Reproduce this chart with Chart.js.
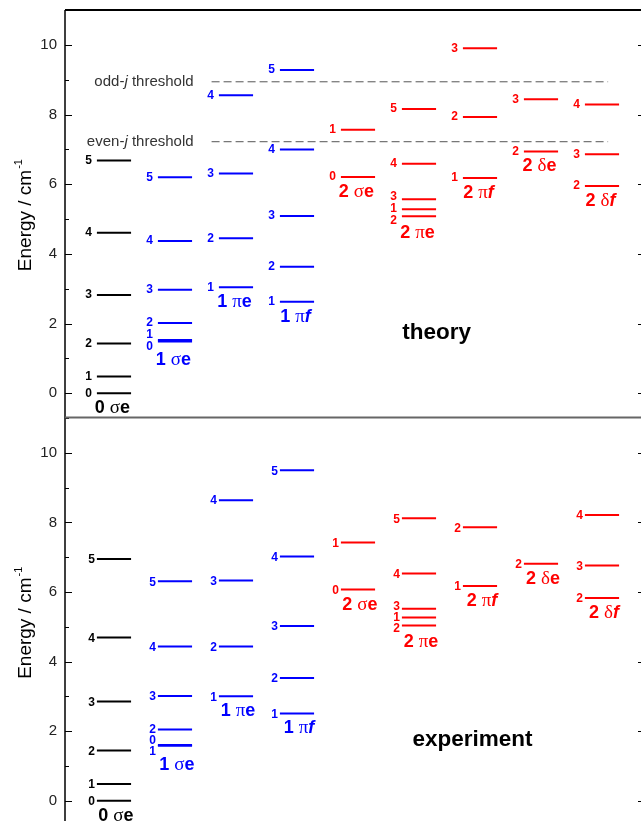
<!DOCTYPE html>
<html>
<head>
<meta charset="utf-8">
<script src="https://cdn.jsdelivr.net/npm/chart.js"></script>
<style>
  html, body { margin: 0; padding: 0; overflow: hidden; background: #fff; }
  #wrap { position: relative; width: 641px; height: 821px; overflow: hidden; }
  canvas { position: absolute; left: 0; }
</style>
</head>
<body>
<div id="wrap">
  <canvas id="theoryChart" width="648" height="417" style="top:0"></canvas>
  <canvas id="experimentChart" width="648" height="410" style="top:416px"></canvas>
</div>
<script>
// columns of the diagram (vibrational/rotor state labels)
const columnNames = ['0 σe', '1 σe', '1 πe', '1 πf', '2 σe', '2 πe', '2 πf', '2 δe', '2 δf'];
const columnColors = ['#000000', '#0000ff', '#0000ff', '#0000ff', '#ff0000', '#ff0000', '#ff0000', '#ff0000', '#ff0000'];

// j quantum numbers and energies (cm-1), theory
const theoryJ = [[0, 1, 2, 3, 4, 5], [0, 1, 2, 3, 4, 5], [1, 2, 3, 4], [1, 2, 3, 4, 5], [0, 1], [1, 2, 3, 4, 5], [1, 2, 3], [2, 3], [2, 3, 4]];
const theoryEnergy = [
  [0, 0.48, 1.43, 2.82, 4.61, 6.68],
  [1.49, 1.53, 2.02, 2.97, 4.37, 6.20],
  [3.04, 4.45, 6.31, 8.55],
  [2.63, 3.63, 5.09, 7.00, 9.28],
  [6.21, 7.56],
  [5.28, 5.08, 5.57, 6.59, 8.16],
  [6.18, 7.93, 9.90],
  [6.94, 8.44],
  [5.95, 6.86, 8.29]
];

// experiment
const experimentJ = [[0, 1, 2, 3, 4, 5], [0, 1, 2, 3, 4, 5], [1, 2, 3, 4], [1, 2, 3, 4, 5], [0, 1], [1, 2, 3, 4, 5], [1, 2], [2], [2, 3, 4]];
const experimentEnergy = [
  [0, 0.48, 1.44, 2.85, 4.69, 6.95],
  [1.60, 1.58, 2.05, 3.01, 4.43, 6.31],
  [3.00, 4.43, 6.33, 8.64],
  [2.51, 3.53, 5.02, 7.02, 9.50],
  [6.07, 7.42],
  [5.27, 5.04, 5.52, 6.53, 8.12],
  [6.17, 7.86],
  [6.81],
  [5.83, 6.76, 8.21]
];

// dissociation thresholds (theory panel)
const thresholdNames = ['odd-j threshold', 'even-j threshold'];
const thresholdEnergy = [8.94, 7.22];

const yTicks = [0, 2, 4, 6, 8, 10];

const SANS = '"Liberation Sans", Arial, sans-serif';
const HALF = 0.28;

function spreadLabels(items, minSep) {
  items.sort((a, b) => a.y - b.y);
  let groups = items.map(it => ({ members: [it], center: it.y }));
  let changed = true;
  while (changed) {
    changed = false;
    for (let i = 0; i < groups.length - 1; i++) {
      const a = groups[i], b = groups[i + 1];
      const aBot = a.center + (a.members.length - 1) * minSep / 2;
      const bTop = b.center - (b.members.length - 1) * minSep / 2;
      if (bTop - aBot < minSep) {
        const members = a.members.concat(b.members);
        const center = members.reduce((s, m) => s + m.y, 0) / members.length;
        groups.splice(i, 2, { members, center });
        changed = true;
        break;
      }
    }
  }
  groups.forEach(g => g.members.forEach((m, k) => {
    m.ly = g.center + (k - (g.members.length - 1) / 2) * minSep;
  }));
  return items;
}

function drawGroupLabel(ctx, name, cx, cy) {
  const [num, rest] = name.split(' ');
  const greek = rest[0], sym = rest.slice(1);
  const parts = [
    { t: num + ' ', f: 'bold 18px ' + SANS },
    { t: greek, f: '19px "Liberation Serif", serif' },
    { t: sym, f: (sym === 'f' ? 'italic bold 18px ' : 'bold 18px ') + SANS }
  ];
  let w = 0;
  parts.forEach(p => { ctx.font = p.f; p.w = ctx.measureText(p.t).width; w += p.w; });
  let px = cx - w / 2;
  ctx.textAlign = 'left';
  ctx.textBaseline = 'middle';
  parts.forEach(p => { ctx.font = p.f; ctx.fillText(p.t, px, cy); px += p.w; });
}

function makePanel(canvasId, js, energies, panel) {
  const datasets = [];
  energies.forEach((col, c) => {
    col.forEach(e => {
      datasets.push({
        data: [{ x: c - HALF, y: e }, { x: c + HALF, y: e }],
        borderColor: columnColors[c], borderWidth: 2, showLine: true,
        pointRadius: 0, borderCapStyle: 'butt'
      });
    });
  });
  if (panel.thresholds) {
    thresholdEnergy.forEach(e => {
      datasets.push({
        data: [{ x: 1.6, y: e }, { x: 8.1, y: e }],
        borderColor: '#555', borderWidth: 1, borderDash: [8, 4],
        showLine: true, pointRadius: 0
      });
    });
  }

  const diagram = {
    id: 'diagram',
    afterDraw(chart) {
      const { ctx, chartArea: a, scales: { x, y } } = chart;
      ctx.save();
      // frame + inward ticks
      ctx.strokeStyle = '#000';
      ctx.lineWidth = 1;
      for (let v = 0; v <= 11; v++) {
        const py = Math.round(y.getPixelForValue(v)) + 0.5;
        const len = v % 2 === 0 ? 7 : 4;
        ctx.beginPath();
        ctx.moveTo(a.left, py); ctx.lineTo(a.left + len, py);
        ctx.moveTo(a.right, py); ctx.lineTo(a.right - len, py);
        ctx.stroke();
      }
      ctx.lineWidth = 1.5;
      ctx.beginPath();
      ctx.moveTo(a.left, a.top); ctx.lineTo(a.left, a.bottom);
      ctx.moveTo(a.right, a.top); ctx.lineTo(a.right, a.bottom);
      ctx.stroke();
      if (panel.topBorder) {
        ctx.lineWidth = 2;
        ctx.beginPath(); ctx.moveTo(a.left, a.top); ctx.lineTo(a.right, a.top); ctx.stroke();
      }
      if (panel.divider) {
        ctx.strokeStyle = '#666';
        ctx.lineWidth = 2;
        ctx.beginPath(); ctx.moveTo(a.left, a.top + 0.5); ctx.lineTo(a.right, a.top + 0.5); ctx.stroke();
      }

      // axis title
      ctx.save();
      const fBig = '19px ' + SANS, fSup = '11px ' + SANS;
      ctx.font = fBig; const w1 = ctx.measureText('Energy / cm').width;
      ctx.font = fSup; const w2 = ctx.measureText('-1').width;
      ctx.translate(24, y.getPixelForValue(5.1));
      ctx.rotate(-Math.PI / 2);
      ctx.fillStyle = '#000';
      ctx.textAlign = 'left';
      ctx.textBaseline = 'middle';
      ctx.font = fBig; ctx.fillText('Energy / cm', -(w1 + w2) / 2, 2);
      ctx.font = fSup; ctx.fillText('-1', -(w1 + w2) / 2 + w1 + 1, -5);
      ctx.restore();

      // thresholds
      if (panel.thresholds) {
        ctx.fillStyle = '#333';
        ctx.textBaseline = 'middle';
        thresholdNames.forEach((name, i) => {
          const py = y.getPixelForValue(thresholdEnergy[i]);
          let px = x.getPixelForValue(1.6) - 18;
          const [pre, post] = name.split('j');
          ctx.textAlign = 'right';
          ctx.font = '15px ' + SANS;
          ctx.fillText(post, px, py);
          px -= ctx.measureText(post).width;
          ctx.font = 'italic 15px ' + SANS;
          ctx.fillText('j', px, py);
          px -= ctx.measureText('j').width;
          ctx.font = '15px ' + SANS;
          ctx.fillText(pre, px, py);
        });
      }

      // level j labels and column labels
      energies.forEach((col, c) => {
        const items = col.map((e, k) => ({ j: js[c][k], y: y.getPixelForValue(e) }));
        spreadLabels(items, panel.labelSep);
        ctx.fillStyle = columnColors[c];
        ctx.font = 'bold 12px ' + SANS;
        ctx.textAlign = 'right';
        ctx.textBaseline = 'middle';
        const lx = x.getPixelForValue(c - HALF) - panel.labelGap;
        items.forEach(it => ctx.fillText(String(it.j), lx, it.ly + panel.labelDy));
        const lowLine = Math.max(...items.map(it => it.y));
        const lowLab = Math.max(...items.map(it => it.ly + panel.labelDy));
        const gy = Math.max(lowLine + 15, lowLab + 13);
        drawGroupLabel(ctx, columnNames[c], x.getPixelForValue(c) + panel.groupDx, gy);
      });

      // panel title
      ctx.fillStyle = '#000';
      ctx.font = 'bold 22.5px ' + SANS;
      ctx.textAlign = 'center';
      ctx.textBaseline = 'middle';
      ctx.fillText(panel.title, x.getPixelForValue(panel.titleAt[0]), y.getPixelForValue(panel.titleAt[1]));
      ctx.restore();
    }
  };

  return new Chart(document.getElementById(canvasId).getContext('2d'), {
    type: 'scatter',
    data: { datasets },
    options: {
      responsive: false,
      animation: false,
      layout: { padding: { top: panel.padTop, bottom: 0, left: 0, right: 3 } },
      plugins: { legend: { display: false }, tooltip: { enabled: false } },
      scales: {
        x: { type: 'linear', display: false, min: -0.803, max: 8.705 },
        y: {
          type: 'linear', min: panel.yMin, max: panel.yMax,
          afterFit: s => { s.width = 65; s.paddingTop = 0; s.paddingBottom = 0; },
          afterBuildTicks: s => { s.ticks = yTicks.map(v => ({ value: v })); },
          border: { display: false },
          grid: { display: false, drawTicks: false },
          ticks: { padding: 8, color: '#222', font: { family: SANS, size: 15 } }
        }
      }
    },
    plugins: [diagram]
  });
}

makePanel('theoryChart', theoryJ, theoryEnergy, {
  padTop: 10, yMin: -0.68, yMax: 11.0, topBorder: true, divider: false, thresholds: true,
  labelSep: 12, labelGap: 5, labelDy: 0, groupDx: -1.5,
  title: 'theory', titleAt: [5.29, 1.73]
});
makePanel('experimentChart', experimentJ, experimentEnergy, {
  padTop: 1, yMin: -0.727, yMax: 11.03, topBorder: false, divider: true, thresholds: false,
  labelSep: 11, labelGap: 2, labelDy: 1, groupDx: 2,
  title: 'experiment', titleAt: [5.877, 1.74]
});
</script>
</body>
</html>
